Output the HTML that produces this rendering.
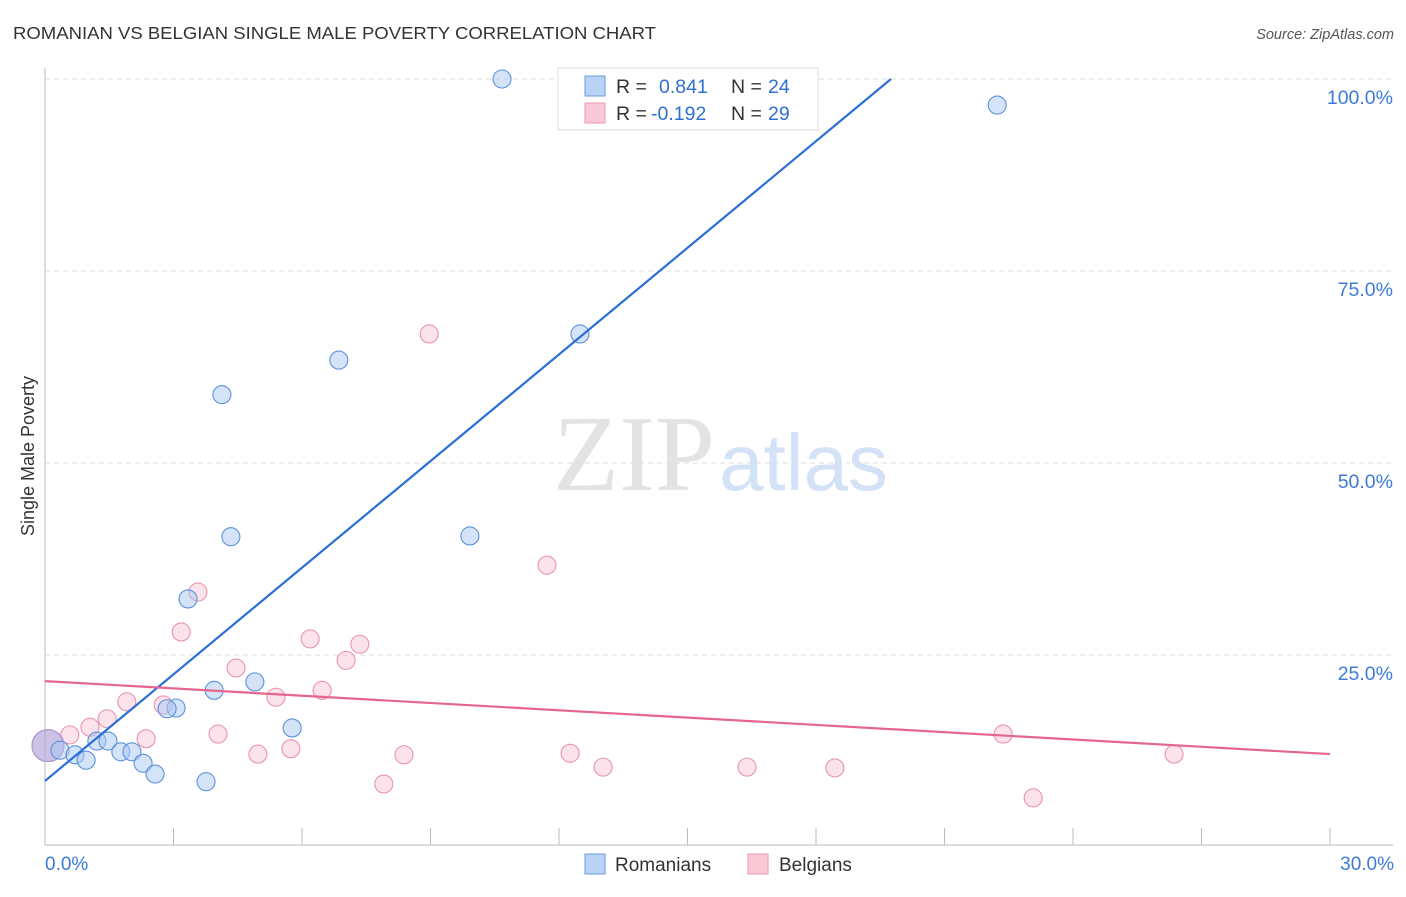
<!DOCTYPE html>
<html><head><meta charset="utf-8"><style>
body{margin:0;background:#fff;font-family:"Liberation Sans",sans-serif}
</style></head><body>
<svg id="chart" width="1406" height="892" xmlns="http://www.w3.org/2000/svg" font-family="Liberation Sans, sans-serif">
<text x="13" y="39" font-size="17.5" fill="#333" textLength="643" lengthAdjust="spacingAndGlyphs">ROMANIAN VS BELGIAN SINGLE MALE POVERTY CORRELATION CHART</text>
<text x="1394" y="39" font-size="14.5" fill="#555" text-anchor="end" font-style="italic">Source: ZipAtlas.com</text>
<text x="553" y="490" font-size="108" fill="#e3e3e3" font-family="Liberation Serif, serif">ZIP<tspan fill="#d3e2f6" font-family="Liberation Sans, sans-serif" font-size="80" dx="4">atlas</tspan></text>
<g id="grid"></g>
<g id="axes"></g>
<g id="marks"></g>
<text transform="translate(34,456) rotate(-90)" font-size="18" fill="#333" text-anchor="middle">Single Male Poverty</text>
<g>
<rect x="558" y="68" width="260" height="62" fill="#fff" stroke="#ddd"/>
<rect x="585" y="76" width="20" height="20" fill="#b9d3f5" stroke="#6a9ce0"/>
<rect x="585" y="103" width="20" height="20" fill="#f9c9d8" stroke="#ea9ab3"/>
<text x="616" y="93" font-size="19.5" fill="#333">R =</text><text x="659" y="93" font-size="19.5" fill="#2f6fd1">0.841</text>
<text x="731" y="93" font-size="19.5" fill="#333">N =</text><text x="768" y="93" font-size="19.5" fill="#2f6fd1">24</text>
<text x="616" y="120" font-size="19.5" fill="#333">R =</text><text x="651" y="120" font-size="19.5" fill="#2f6fd1">-0.192</text>
<text x="731" y="120" font-size="19.5" fill="#333">N =</text><text x="768" y="120" font-size="19.5" fill="#2f6fd1">29</text>
</g>
<g>
<rect x="585" y="854" width="20" height="20" fill="#b9d3f5" stroke="#6a9ce0"/>
<text x="615" y="871" font-size="19" fill="#333">Romanians</text>
<rect x="748" y="854" width="20" height="20" fill="#f9c9d8" stroke="#ea9ab3"/>
<text x="779" y="871" font-size="19" fill="#333">Belgians</text>
</g>
</svg>
<script>
const yTicks=[25,50,75,100];
const yTickLabels=["25.0%","50.0%","75.0%","100.0%"];
const xTicks=[0,3,6,9,12,15,18,21,24,27,30];
const romX=[0.07,0.35,0.70,0.96,1.21,1.47,1.77,2.03,2.29,2.57,3.06,2.85,3.34,3.76,3.95,4.13,4.34,4.90,5.77,6.86,9.92,10.67,12.49,22.23];
const romY=[13.2,12.6,12.0,11.3,13.8,13.8,12.4,12.4,10.9,9.5,18.1,18.0,32.3,8.5,20.4,58.9,40.4,21.5,15.5,63.4,40.5,100,66.8,96.6];
const belX=[0.07,0.58,1.05,1.45,1.91,2.36,2.76,3.18,3.57,4.04,4.46,4.97,5.39,5.74,6.19,6.47,7.03,7.35,7.91,8.38,8.97,11.72,12.26,13.03,16.39,18.44,22.37,23.07,26.36];
const belY=[13.2,14.6,15.6,16.7,18.9,14.1,18.5,28.0,33.2,14.7,23.3,12.1,19.5,12.8,27.1,20.4,24.3,26.4,8.2,12.0,66.8,36.7,12.2,10.4,10.4,10.3,14.7,6.4,12.1];
const romTrend=[[0,8.6],[19.75,100]];
const belTrend=[[0,21.6],[30,12.1]];
const NS="http://www.w3.org/2000/svg";
const X=v=>45+v*(1285/30);
const Y=v=>847-v*7.68;
function mk(t,a,p){const e=document.createElementNS(NS,t);for(const k in a)e.setAttribute(k,a[k]);p.appendChild(e);return e;}
const grid=document.getElementById('grid'),axes=document.getElementById('axes'),marks=document.getElementById('marks');
yTicks.forEach((v,i)=>{
 const l=mk('line',{x1:45,x2:1393,y1:Y(v),y2:Y(v),stroke:'#ddd','stroke-dasharray':'5,4'},grid);
 
 
 const t=mk('text',{x:1393,y:Y(v)+25,'font-size':19.5,fill:'#3d7bd6','text-anchor':'end'},axes);
 t.textContent=yTickLabels[i];
 
 
});
const la=mk('line',{x1:45,x2:45,y1:68,y2:845,stroke:'#bbb'},axes);


const lb=mk('line',{x1:45,x2:1393,y1:845,y2:845,stroke:'#bbb'},axes);


xTicks.forEach(v=>{
 const t=mk('line',{x1:X(v),x2:X(v),y1:828,y2:845,stroke:'#bbb'},axes);
 
 
});
[[0,"0.0%",'start',45],[30,"30.0%",'end',1394]].forEach(d=>{
 const t=mk('text',{x:d[3],y:870,'font-size':19,fill:'#3d7bd6','text-anchor':d[2]},axes);
 t.textContent=d[1];
 
 
});
function pts(xs,ys,fill,stroke,name){
 xs.forEach((x,i)=>{
  const big=i===0;
  const c=mk('circle',{cx:X(x),cy:Y(ys[i]),r:big?16:9,fill:big?'rgba(175,160,215,0.4)':fill,stroke:big?'#a898d0':stroke,'stroke-width':1.1},marks);
  
  
 });
}
pts(belX,belY,'rgba(248,190,210,0.45)','#e993ae','point-belgians');
pts(romX,romY,'rgba(170,200,242,0.5)','#5b91dc','point-romanians');
const t1=mk('line',{x1:X(romTrend[0][0]),y1:Y(romTrend[0][1]),x2:X(romTrend[1][0]),y2:Y(romTrend[1][1]),stroke:'#2b6fd6','stroke-width':2.2},marks);


const t2=mk('line',{x1:X(belTrend[0][0]),y1:Y(belTrend[0][1]),x2:X(belTrend[1][0]),y2:Y(belTrend[1][1]),stroke:'#e5658f','stroke-width':2.2},marks);


</script>
</body></html>
